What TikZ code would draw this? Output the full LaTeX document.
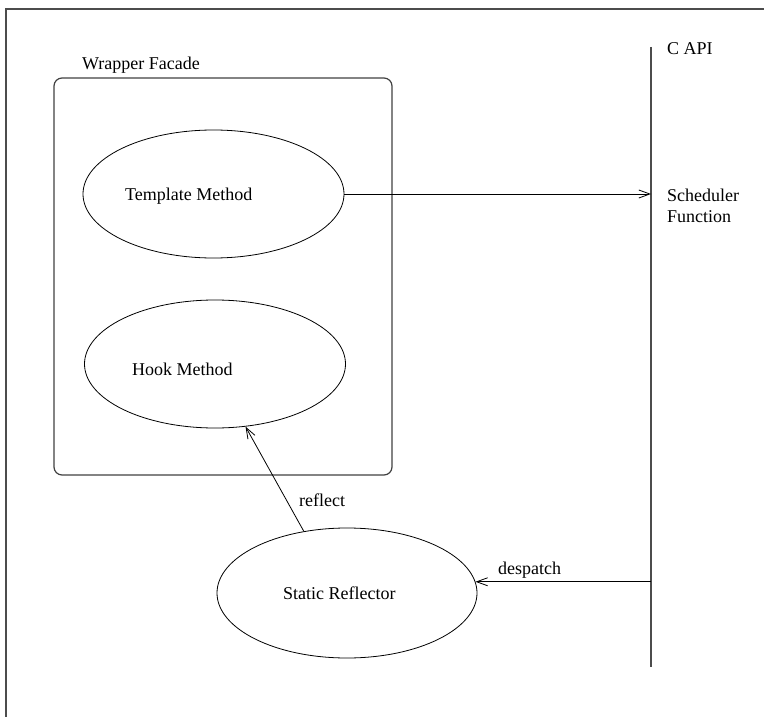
\documentclass[tikz,border=0pt]{standalone}
\usepackage{fontspec}
\setmainfont{Liberation Serif}
\usetikzlibrary{shapes,arrows.meta}

\begin{document}
\begin{tikzpicture}[x=1pt, y=-1pt,
  font=\fontsize{18}{21}\selectfont,
  method/.style={draw, ellipse, line width=0.8pt, minimum width=261pt, minimum height=128pt, inner sep=0pt},
  lbl/.style={inner sep=0pt, anchor=base west},
  >={Straight Barb[length=11pt,width=8pt]}]
\useasboundingbox (0,0) rectangle (764,717);
% page frame
\draw[line width=1.2pt, black!70] (6,717) -- (6,9) -- (764,9);

% wrapper facade box
\node[draw, line width=1.2pt, black!75, rounded corners=8pt, minimum width=338pt, minimum height=397pt] (facade) at (223,276.5) {};
\node[lbl] (facadelbl) at (82,70) {Wrapper Facade};

% methods
\node[method] (tm) at (213.5,194) {};
\node[lbl] (tmlbl) at (125,200) {Template Method};
\node[method] (hm) at (215,364) {};
\node[lbl] (hmlbl) at (132,375) {Hook Method};
\node[method, minimum width=260pt, minimum height=130pt] (sr) at (347,593) {};
\node[lbl] (srlbl) at (283,599) {Static Reflector};

% C API
\coordinate (apitop) at (651,47);
\coordinate (apibot) at (651,667);
\draw[line width=1.2pt, black!70] (apitop) -- (apibot);
\node[lbl] (apilbl) at (667,55) {C API};
\node[lbl] (schedlbl) at (667,201) {Scheduler};
\node[lbl] (funclbl) at (667,222) {Function};

% connectors
\draw[->, line width=0.8pt] (tm.east) -- (tm.east -| apitop);
\draw[->, line width=0.8pt] (sr.5 -| apitop) -- (sr.5);
\node[lbl] (desplbl) at (498,574) {despatch};
\draw[->, line width=0.8pt] (sr.125) -- (hm.296);
\node[lbl] (refllbl) at (299,506) {reflect};
\end{tikzpicture}
\end{document}
